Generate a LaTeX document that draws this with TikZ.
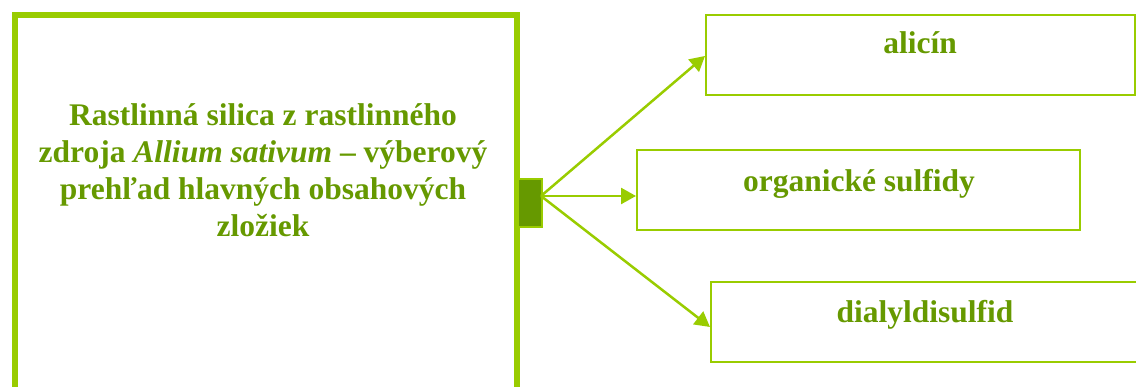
\documentclass[tikz,border=0pt]{standalone}
\usepackage{fontspec}
\setmainfont{Liberation Serif}
\usetikzlibrary{arrows.meta,calc}
\definecolor{lgreen}{HTML}{99CC00}
\definecolor{dgreen}{HTML}{669900}
\tikzset{
  bigbox/.style={draw=lgreen, line width=6pt, minimum width=502pt, minimum height=430pt, inner sep=0pt},
  itembox/.style={draw=lgreen, line width=2pt, minimum height=80pt, inner sep=0pt},
  lbl/.style={text=dgreen, font=\fontsize{31.5}{37}\selectfont\bfseries, inner sep=0pt, align=center},
  conn/.style={draw=lgreen, line width=2.5pt, -{Triangle[length=15pt,width=16pt]}},
  junction/.style={draw=lgreen, fill=dgreen, line width=2pt, minimum width=24pt, minimum height=48pt, inner sep=0pt}
}
\begin{document}
\begin{tikzpicture}[x=1pt,y=-1pt]
\useasboundingbox (0,0) rectangle (1136,387);
\clip (0,0) rectangle (1136,387);
\node[bigbox, anchor=north west] (src) at (12,12) {};
\node[lbl] (srctext) at (263,170) {Rastlinná silica z rastlinného\\zdroja \textit{Allium sativum} -- výberový\\prehľad hlavných obsahových\\zložiek};
\node[junction, anchor=north west] (jr) at (517,178) {};
\coordinate (j) at (541,196);
\node[itembox, minimum width=429pt, anchor=north west] (alic) at (705,14) {};
\node[lbl, anchor=base] (aliclbl) at (920,54) {alicín};
\node[itembox, minimum width=443pt, anchor=north west] (org) at (636,149) {};
\node[lbl, anchor=base] (orglbl) at (859,192) {organické sulfidy};
\node[itembox, minimum width=440pt, anchor=north west] (dia) at (710,281) {};
\node[lbl, anchor=base] (dialbl) at (925,323) {dialyldisulfid};
\draw[conn] (j) -- ($(alic.west)+(0,1)$);
\draw[conn] (j) -- (j -| org.west);
\draw[conn] (j) -- ($(dia.west)+(0,5)$);
\end{tikzpicture}
\end{document}
